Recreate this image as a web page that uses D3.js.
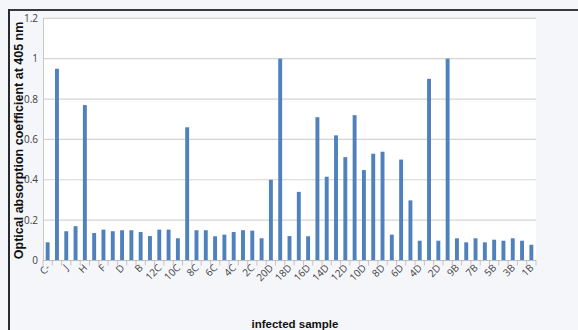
<!DOCTYPE html>
<html>
<head>
<meta charset="utf-8">
<script src="https://cdn.jsdelivr.net/npm/d3@7"></script>
<style>
  html, body { margin: 0; padding: 0; background: #f5f6f9; }
  svg { display: block; }
</style>
</head>
<body>
<svg id="chart" width="578" height="330"></svg>
<script>
// samples, in the order they appear along the x axis
const categories = [
  'C-', 'C+', 'J', 'I', 'H', 'G', 'F', 'E', 'D', 'C', 'B', 'A',
  '12C', '11C', '10C', '9C', '8C', '7C', '6C', '5C', '4C', '3C', '2C', '1C',
  '20D', '19D', '18D', '17D', '16D', '15D', '14D', '13D', '12D', '11D', '10D',
  '9D', '8D', '7D', '6D', '5D', '4D', '3D', '2D', '1D',
  '9B', '8B', '7B', '6B', '5B', '4B', '3B', '2B', '1B'
];

// optical absorption at 405 nm
const absorption = [
  0.09, 0.95, 0.145, 0.17, 0.77, 0.136, 0.153, 0.145, 0.15, 0.15, 0.141, 0.121,
  0.153, 0.153, 0.11, 0.66, 0.15, 0.15, 0.12, 0.128, 0.141, 0.15, 0.148, 0.11,
  0.40, 1.0, 0.121, 0.34, 0.12, 0.71, 0.415, 0.62, 0.512, 0.72, 0.448,
  0.529, 0.539, 0.128, 0.50, 0.298, 0.098, 0.90, 0.098, 1.0,
  0.11, 0.09, 0.11, 0.09, 0.103, 0.098, 0.11, 0.098, 0.078
];

// only every other sample gets a label
const tickLabels = [
  'C-', 'J', 'H', 'F', 'D', 'B', '12C', '10C', '8C', '6C', '4C', '2C',
  '20D', '18D', '16D', '14D', '12D', '10D', '8D', '6D', '4D', '2D',
  '9B', '7B', '5B', '3B', '1B'
];

const yTicks = [0, 0.2, 0.4, 0.6, 0.8, 1, 1.2];

const svg = d3.select('#chart');
const plot = { left: 43, right: 536, top: 18.3, bottom: 260.5 };

const x = d3.scaleBand()
  .domain(categories)
  .range([plot.left, plot.right])
  .paddingInner(0.58)
  .paddingOuter(0.29);

const y = d3.scaleLinear()
  .domain([0, 1.2])
  .range([plot.bottom, plot.top]);

// frame lines along top and left
svg.append('line')
  .attr('x1', 8).attr('x2', 578).attr('y1', 10).attr('y2', 10)
  .style('stroke', '#3a3a3a').style('stroke-width', 2);
svg.append('line')
  .attr('x1', 9).attr('x2', 9).attr('y1', 9).attr('y2', 330)
  .style('stroke', '#2a2a2a').style('stroke-width', 2);

// white plot area
svg.append('rect')
  .attr('x', plot.left).attr('y', plot.top)
  .attr('width', plot.right - plot.left)
  .attr('height', plot.bottom - plot.top)
  .style('fill', '#fff');

// gridlines
svg.append('g')
  .selectAll('line')
  .data(yTicks)
  .join('line')
  .attr('x1', plot.left).attr('x2', plot.right)
  .attr('y1', d => y(d)).attr('y2', d => y(d))
  .style('stroke', '#d4d4d4').style('stroke-width', 1.2);

// y axis
const yAxis = svg.append('g')
  .attr('transform', `translate(${plot.left},0)`)
  .call(d3.axisLeft(y).tickValues(yTicks).tickSize(0).tickPadding(5)
    .tickFormat(d3.format('~g')));
yAxis.select('.domain').style('stroke', '#c8c8c8');
yAxis.selectAll('text')
  .style('font-family', 'Open Sans, sans-serif')
  .style('font-size', '10px')
  .style('fill', '#404040');

// bars
svg.append('g')
  .selectAll('rect')
  .data(absorption)
  .join('rect')
  .attr('x', (d, i) => x(categories[i]))
  .attr('width', x.bandwidth())
  .attr('y', d => y(d))
  .attr('height', d => y(0) - y(d))
  .style('fill', '#4f81bd');

// x axis: line, ticks between every sample
const step = x.step();
svg.append('line')
  .attr('x1', plot.left).attr('x2', plot.right)
  .attr('y1', plot.bottom).attr('y2', plot.bottom)
  .style('stroke', '#bdbdbd');
svg.append('g')
  .selectAll('line')
  .data(categories)
  .join('line')
  .attr('x1', d => x(d) - (step - x.bandwidth()) / 2)
  .attr('x2', d => x(d) - (step - x.bandwidth()) / 2)
  .attr('y1', plot.bottom).attr('y2', plot.bottom + 5)
  .style('stroke', '#c4c4c4');
svg.append('line')
  .attr('x1', plot.right).attr('x2', plot.right)
  .attr('y1', plot.bottom).attr('y2', plot.bottom + 5)
  .style('stroke', '#c4c4c4');

svg.append('g')
  .selectAll('text')
  .data(tickLabels)
  .join('text')
  .attr('transform', d => `translate(${x(d) + x.bandwidth() / 2 + 3},${plot.bottom + 8}) rotate(-45)`)
  .style('text-anchor', 'end')
  .style('font-family', 'Open Sans, sans-serif')
  .style('font-size', '10px')
  .style('fill', '#404040')
  .text(d => d);

// axis titles
svg.append('text')
  .attr('transform', `translate(22.5,${(plot.top + plot.bottom) / 2 + 1}) rotate(-90)`)
  .style('text-anchor', 'middle')
  .style('font-family', 'Liberation Sans, sans-serif')
  .style('font-weight', 'bold')
  .style('font-size', '12.5px')
  .style('fill', '#111')
  .text('Optical absorption coefficient at 405 nm');

svg.append('text')
  .attr('x', 295)
  .attr('y', 328)
  .style('text-anchor', 'middle')
  .style('font-family', 'Liberation Sans, sans-serif')
  .style('font-weight', 'bold')
  .style('font-size', '11.5px')
  .style('fill', '#111')
  .text('infected sample');
</script>
</body>
</html>
